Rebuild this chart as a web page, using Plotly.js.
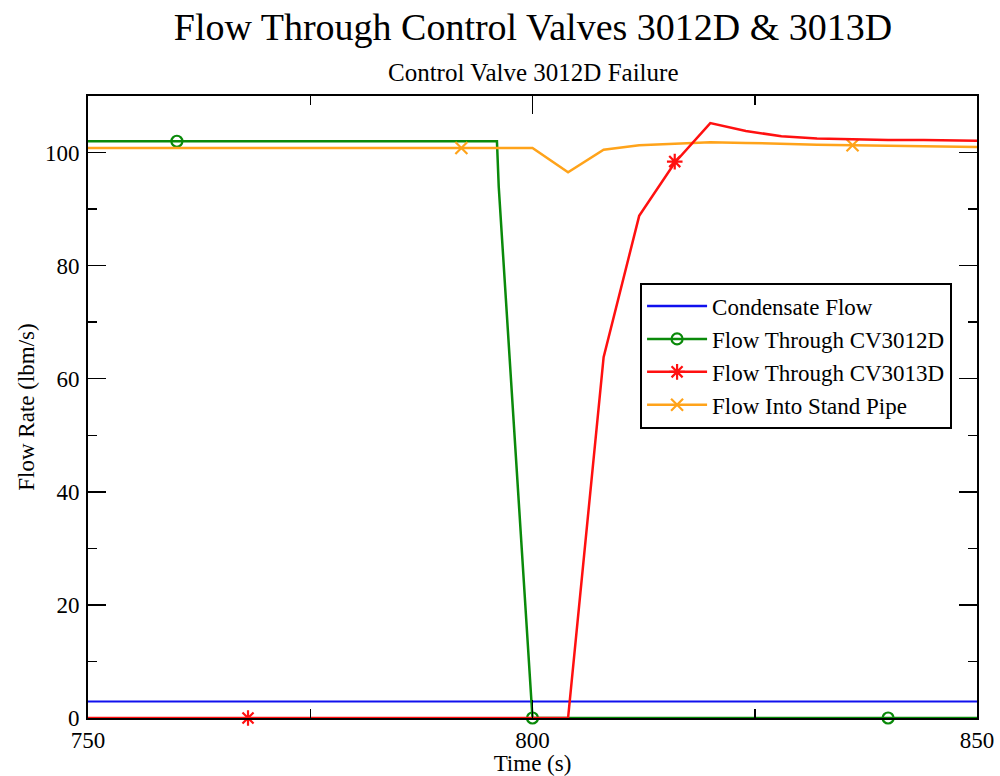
<!DOCTYPE html>
<html>
<head>
<meta charset="utf-8">
<script src="https://cdn.plot.ly/plotly-3.0.1.min.js"></script>
<style>html,body{margin:0;padding:0;background:#fff;}#chart{width:1000px;height:776px;}</style>
</head>
<body>
<div id="chart"></div>
<script>
// ---- data ----
const condensateX = [750, 850];
const condensateY = [2.9, 2.9];

const cv3012X = [750, 796, 796.2, 800, 850];
const cv3012Y = [102, 102, 94, 0, 0];
const cv3012MarkX = [760, 800, 840];
const cv3012MarkY = [102, 0, 0];

const cv3013X = [750, 804, 808, 812, 816, 820, 824, 828, 832, 836, 840, 844, 848, 850];
const cv3013Y = [0, 0, 63.8, 88.8, 98.2, 105.2, 103.8, 102.9, 102.5, 102.3, 102.2, 102.2, 102.1, 102.1];
const cv3013MarkX = [768, 816];
const cv3013MarkY = [0, 98.4];

const pipeX = [750, 800, 804, 808, 812, 816, 820, 824, 828, 832, 836, 840, 844, 848, 850];
const pipeY = [100.8, 100.8, 96.5, 100.5, 101.3, 101.6, 101.8, 101.7, 101.5, 101.4, 101.3, 101.2, 101.1, 101.0, 101.0];
const pipeMarkX = [792, 836];
const pipeMarkY = [100.8, 101.3];

const seriesNames = ["Condensate Flow", "Flow Through CV3012D", "Flow Through CV3013D", "Flow Into Stand Pipe"];
const xTickVals = [750, 800, 850];
const yTickVals = [0, 20, 40, 60, 80, 100];

// ---- styling ----
const serif = "Liberation Serif, Times New Roman, serif";
const cBlue = "#1010ee", cGreen = "#0a8a0a", cRed = "#ff1010", cOrange = "#ffa31a";

function lineTrace(x, y, color, w, group) {
  return {x, y, type: "scatter", mode: "lines", line: {color, width: w},
          showlegend: false, legendgroup: group, hoverinfo: "skip"};
}
function markTrace(x, y, color, symbol, size, group) {
  return {x, y, type: "scatter", mode: "markers", showlegend: false, legendgroup: group,
          cliponaxis: false,
          marker: {color, symbol, size, line: {color, width: 2.2}}, hoverinfo: "skip"};
}
function legendTrace(name, color, symbol, size, group, mode) {
  return {x: [null], y: [null], type: "scatter", mode, name, legendgroup: group,
          line: {color, width: 2.5},
          marker: {color, symbol, size, line: {color, width: 2.2}}};
}

const traces = [
  lineTrace(condensateX, condensateY, cBlue, 2, "a"),
  lineTrace(cv3012X, cv3012Y, cGreen, 2.5, "b"),
  markTrace(cv3012MarkX, cv3012MarkY, cGreen, "circle-open", 11, "b"),
  lineTrace(pipeX, pipeY, cOrange, 2.5, "d"),
  markTrace(pipeMarkX, pipeMarkY, cOrange, "x-thin-open", 12, "d"),
  lineTrace(cv3013X, cv3013Y, cRed, 2.5, "c"),
  markTrace(cv3013MarkX, cv3013MarkY, cRed, "asterisk-open", 13, "c"),
  legendTrace(seriesNames[0], cBlue, "circle", 1, "a", "lines"),
  legendTrace(seriesNames[1], cGreen, "circle-open", 11, "b", "lines+markers"),
  legendTrace(seriesNames[2], cRed, "asterisk-open", 13, "c", "lines+markers"),
  legendTrace(seriesNames[3], cOrange, "x-thin-open", 12, "d", "lines+markers")
];

const axisCommon = {
  showgrid: false, zeroline: false, showline: true, linecolor: "#000", linewidth: 2,
  mirror: "allticks", ticks: "inside", ticklen: 18, tickwidth: 1.5, tickcolor: "#000",
  tickfont: {family: serif, size: 23, color: "#000"}
};

const layout = {
  width: 1000, height: 776,
  paper_bgcolor: "#fff", plot_bgcolor: "#fff",
  margin: {l: 88, r: 23, t: 96, b: 58},
  font: {family: serif, color: "#000"},
  title: {text: "Flow Through Control Valves 3012D & 3013D", font: {family: serif, size: 38, color: "#000"},
          x: 0.533, xanchor: "center", y: 0.966, yanchor: "middle"},
  annotations: [{text: "Control Valve 3012D Failure", xref: "paper", yref: "paper", x: 0.5, y: 1.0,
                 yshift: 24, xanchor: "center", yanchor: "middle", showarrow: false,
                 font: {family: serif, size: 25, color: "#000"}}],
  xaxis: Object.assign({}, axisCommon, {
    range: [750, 850], tickvals: xTickVals, ticktext: xTickVals.map(String),
    minor: {dtick: 25, tick0: 750, ticks: "inside", ticklen: 9, tickwidth: 1.5, tickcolor: "#000"},
    ticklabelstandoff: 0,
    title: {text: "Time (s)", font: {family: serif, size: 23, color: "#000"}, standoff: 2}
  }),
  yaxis: Object.assign({}, axisCommon, {
    range: [0, 110], tickvals: yTickVals, ticktext: yTickVals.map(String),
    minor: {dtick: 10, tick0: 0, ticks: "inside", ticklen: 9, tickwidth: 1.5, tickcolor: "#000"},
    ticklabelstandoff: 2,
    title: {text: "Flow Rate (lbm/s)", font: {family: serif, size: 23, color: "#000"}, standoff: 4}
  }),
  legend: {x: 0.621, y: 0.70, xanchor: "left", yanchor: "top",
           bgcolor: "#fff", bordercolor: "#000", borderwidth: 2,
           font: {family: serif, size: 23, color: "#000"}, tracegroupgap: 0, itemwidth: 60}
};

Plotly.newPlot("chart", traces, layout, {displayModeBar: false, staticPlot: true});
</script>
</body>
</html>
